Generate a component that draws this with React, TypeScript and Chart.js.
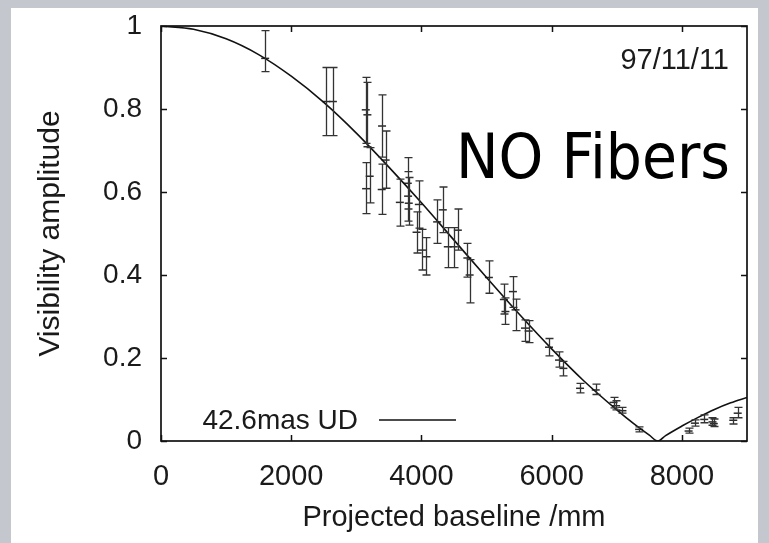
import { useEffect, useRef } from 'react';
import { Chart, registerables } from 'chart.js';

Chart.register(...registerables);

// Model curve (42.6 mas uniform disk)
const curveX = [0, 500, 1000, 1500, 2000, 2500, 3000, 3500, 4000, 4500, 5000, 5500, 6000, 6500, 7000, 7250, 7500, 7630, 7750, 8000, 8250, 8500, 8750, 9000];
const curveV = [1.0, 0.992, 0.969, 0.931, 0.879, 0.816, 0.742, 0.66, 0.574, 0.484, 0.394, 0.306, 0.222, 0.144, 0.075, 0.043, 0.014, 0.0, 0.013, 0.036, 0.057, 0.076, 0.092, 0.105];

// Measured visibilities with error bars
const obsX = [1600, 2540, 2640, 3145, 3170, 3150, 3205, 3395, 3390, 3450, 3668, 3790, 3795, 3805, 3960, 3925, 4010, 4077, 4241, 4328, 4405, 4497, 4559, 4705, 4740, 5036, 5266, 5290, 5405, 5445, 5590, 5646, 5959, 6113, 6180, 6436, 6677, 6950, 6990, 7087, 7343, 8103, 8200, 8343, 8470, 8490, 8789, 8857];
const obsV = [0.922, 0.818, 0.818, 0.798, 0.786, 0.608, 0.638, 0.759, 0.606, 0.677, 0.575, 0.621, 0.59, 0.573, 0.57, 0.503, 0.46, 0.444, 0.528, 0.557, 0.468, 0.468, 0.508, 0.441, 0.4, 0.394, 0.341, 0.312, 0.36, 0.316, 0.272, 0.265, 0.226, 0.195, 0.175, 0.127, 0.123, 0.093, 0.085, 0.073, 0.028, 0.024, 0.043, 0.052, 0.046, 0.042, 0.05, 0.067];
const obsLow = [0.89, 0.736, 0.736, 0.717, 0.709, 0.548, 0.574, 0.684, 0.546, 0.609, 0.518, 0.559, 0.53, 0.52, 0.513, 0.453, 0.412, 0.4, 0.476, 0.502, 0.418, 0.418, 0.46, 0.395, 0.333, 0.356, 0.306, 0.281, 0.322, 0.266, 0.24, 0.237, 0.205, 0.178, 0.157, 0.116, 0.112, 0.08, 0.075, 0.067, 0.022, 0.019, 0.036, 0.044, 0.038, 0.035, 0.041, 0.056];
const obsHigh = [0.989, 0.9, 0.9, 0.876, 0.864, 0.671, 0.707, 0.834, 0.667, 0.747, 0.631, 0.683, 0.649, 0.635, 0.627, 0.552, 0.51, 0.49, 0.581, 0.612, 0.514, 0.514, 0.559, 0.476, 0.437, 0.434, 0.378, 0.345, 0.396, 0.342, 0.292, 0.29, 0.247, 0.215, 0.192, 0.139, 0.137, 0.105, 0.097, 0.081, 0.034, 0.031, 0.051, 0.063, 0.056, 0.053, 0.056, 0.081];

const xTickValues = [0, 2000, 4000, 6000, 8000];
const yTickValues = [0, 0.2, 0.4, 0.6, 0.8, 1];

const xTitle = 'Projected baseline /mm';
const yTitle = 'Visibility amplitude';
const legendLabel = '42.6mas UD';
const dateLabel = '97/11/11';
const noteLabel = 'NO Fibers';

const FONT = '"Liberation Sans", Arial, Helvetica, sans-serif';
const INK = '#1a1a1a';

const decorPlugin = {
  id: 'decor',
  afterDatasetsDraw(chart: any) {
    const { ctx, chartArea: a, scales } = chart;
    const x = scales.x;
    const y = scales.y;
    ctx.save();

    // error bars
    ctx.strokeStyle = '#333';
    ctx.lineWidth = 1.3;
    ctx.beginPath();
    for (let i = 0; i < obsX.length; i++) {
      const px = Math.round(x.getPixelForValue(obsX[i])) + 0.5;
      const lo = y.getPixelForValue(obsLow[i]);
      const hi = y.getPixelForValue(obsHigh[i]);
      ctx.moveTo(px, lo);
      ctx.lineTo(px, hi);
      ctx.moveTo(px - 4, lo);
      ctx.lineTo(px + 4, lo);
      ctx.moveTo(px - 4, hi);
      ctx.lineTo(px + 4, hi);
    }
    ctx.stroke();

    // frame
    ctx.strokeStyle = '#111';
    ctx.lineWidth = 1.7;
    ctx.strokeRect(a.left, a.top, a.right - a.left, a.bottom - a.top);

    // inward ticks on all four sides
    ctx.lineWidth = 1.5;
    ctx.beginPath();
    const tl = 6;
    x.ticks.forEach((t: any) => {
      const px = Math.round(x.getPixelForValue(t.value)) + 0.5;
      ctx.moveTo(px, a.bottom);
      ctx.lineTo(px, a.bottom - tl);
      ctx.moveTo(px, a.top);
      ctx.lineTo(px, a.top + tl);
    });
    y.ticks.forEach((t: any) => {
      const py = Math.round(y.getPixelForValue(t.value)) + 0.5;
      ctx.moveTo(a.left, py);
      ctx.lineTo(a.left + tl, py);
      ctx.moveTo(a.right, py);
      ctx.lineTo(a.right - tl, py);
    });
    ctx.stroke();

    // key
    ctx.fillStyle = INK;
    ctx.font = `28px ${FONT}`;
    ctx.textAlign = 'right';
    ctx.textBaseline = 'alphabetic';
    ctx.fillText(legendLabel, a.left + 197, a.bottom - 12);
    ctx.strokeStyle = '#111';
    ctx.lineWidth = 1.5;
    ctx.beginPath();
    ctx.moveTo(a.left + 218, a.bottom - 21);
    ctx.lineTo(a.left + 295, a.bottom - 21);
    ctx.stroke();

    // date label
    ctx.font = `29px ${FONT}`;
    ctx.fillText(dateLabel, a.right - 18, a.top + 43);

    // big note, fitted to width
    ctx.fillStyle = '#000';
    ctx.font = `62px "DejaVu Sans", Verdana, sans-serif`;
    const w = ctx.measureText(noteLabel).width;
    const target = 274;
    ctx.save();
    ctx.translate(a.right - 17 - target, a.top + 152);
    ctx.scale(target / w, 1);
    ctx.textAlign = 'left';
    ctx.fillText(noteLabel, 0, 0);
    ctx.restore();

    ctx.restore();
  },
};

export default function App() {
  const ref = useRef<HTMLCanvasElement>(null);

  useEffect(() => {
    document.body.style.margin = '0';
    const canvas = ref.current;
    if (!canvas) return;
    const chart = new Chart(canvas, {
      type: 'scatter',
      data: {
        datasets: [
          {
            type: 'line',
            label: legendLabel,
            data: curveX.map((v, i) => ({ x: v, y: curveV[i] })),
            borderColor: '#111',
            borderWidth: 1.6,
            pointRadius: 0,
            fill: false,
            cubicInterpolationMode: 'monotone',
          } as any,
          {
            type: 'scatter',
            label: 'data',
            data: obsX.map((v, i) => ({ x: v, y: obsV[i] })),
            pointStyle: 'line',
            pointRadius: 4,
            borderColor: '#2a2a2a',
            borderWidth: 1.5,
            backgroundColor: '#2a2a2a',
          } as any,
        ],
      },
      options: {
        responsive: false,
        animation: false,
        devicePixelRatio: 1,
        layout: { padding: { left: 0, right: 22, top: 26, bottom: 0 } },
        plugins: {
          legend: { display: false },
          tooltip: { enabled: false },
        },
        scales: {
          x: {
            type: 'linear',
            min: 0,
            max: 9000,
            afterBuildTicks: (s: any) => {
              s.ticks = xTickValues.map((v) => ({ value: v }));
            },
            afterFit: (s: any) => {
              s.height = 102;
            },
            grid: { display: false, drawTicks: false },
            border: { display: false },
            ticks: {
              padding: 19,
              color: INK,
              font: { family: FONT, size: 29 },
              maxRotation: 0,
              autoSkip: false,
              callback: (v: any) => String(v),
            },
            title: {
              display: true,
              text: xTitle,
              color: INK,
              font: { family: FONT, size: 29 },
              padding: { top: 0, bottom: 8 },
            },
          },
          y: {
            type: 'linear',
            min: 0,
            max: 1,
            afterBuildTicks: (s: any) => {
              s.ticks = yTickValues.map((v) => ({ value: v }));
            },
            afterFit: (s: any) => {
              s.width = 161;
              s.paddingTop = 0;
              s.paddingBottom = 0;
            },
            grid: { display: false, drawTicks: false },
            border: { display: false },
            ticks: {
              padding: 19,
              color: INK,
              font: { family: FONT, size: 28 },
              autoSkip: false,
              callback: (v: any) => String(Number(Number(v).toFixed(1))),
            },
            title: {
              display: true,
              text: yTitle,
              color: INK,
              font: { family: FONT, size: 30 },
              padding: { top: 33, bottom: 0 },
            },
          },
        },
      },
      plugins: [decorPlugin],
    });
    return () => chart.destroy();
  }, []);

  return (
    <div style={{ position: 'fixed', left: 0, top: 0, width: 769, height: 543, background: '#c4c7cd', overflow: 'hidden' }}>
      <div style={{ position: 'absolute', left: 11, top: 8, right: 11, bottom: 0, background: '#ffffff' }} />
      <canvas ref={ref} width={769} height={543} style={{ position: 'absolute', left: 0, top: 0 }} />
    </div>
  );
}
